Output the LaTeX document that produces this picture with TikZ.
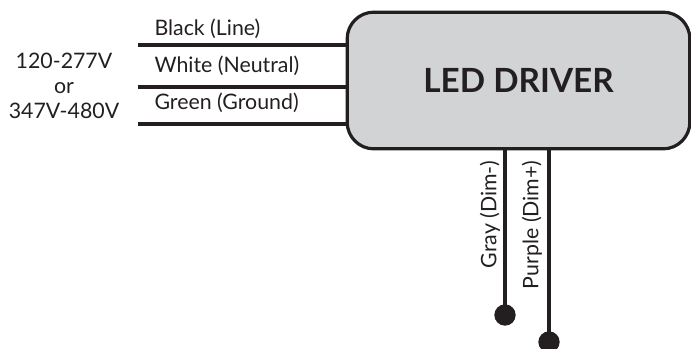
\documentclass[tikz,border=0pt]{standalone}
\usepackage{fontspec}
\setmainfont{Lato}
\usetikzlibrary{positioning}
\definecolor{drvgray}{RGB}{209,211,212}
\definecolor{ink}{RGB}{35,31,32}
\tikzset{every picture/.style={line width=0.75pt}}
\tikzset{
  wire/.style={draw=ink,line width=2.3pt},
  wirelabel/.style={anchor=west,inner sep=0.75pt,text=ink,font=\fontsize{16}{19}\selectfont},
  dimlabel/.style={anchor=east,rotate=90,inner sep=0.75pt,text=ink,font=\fontsize{16}{19}\selectfont},
  enddot/.style={circle,fill=ink,inner sep=0pt,minimum size=16pt},
}

\begin{document}
\begin{tikzpicture}[x=0.75pt,y=0.75pt,yscale=-1,xscale=1]
\useasboundingbox (0,0) rectangle (691,349);

%Shape: Rounded Rect [id:drv]
\node (drv) [draw=ink,fill=drvgray,line width=2.4pt,rounded corners=20pt,minimum width=257pt,minimum height=102.5pt,inner sep=0pt,text=ink,font=\fontsize{25}{30}\selectfont\bfseries] at (518.5,80.5) {\raisebox{-3pt}{LED DRIVER}};

%Straight Lines [id:blk]
\coordinate (blk) at (138,45);
\draw [wire] (blk) -- (drv.west |- blk) ;
%Straight Lines [id:wht]
\coordinate (wht) at (138,87);
\draw [wire] (wht) -- (drv.west |- wht) ;
%Straight Lines [id:grn]
\coordinate (grn) at (138,124);
\draw [wire] (grn) -- (drv.west |- grn) ;

%Straight Lines [id:gry]
\node (gdot) [enddot] at (505,315) {};
\draw [wire] (drv.south -| gdot) -- (gdot.center) ;
%Straight Lines [id:prp]
\node (pdot) [enddot] at (549,342) {};
\draw [wire] (drv.south -| pdot) -- (pdot.center) ;

% Text Node
\node (blktxt) [wirelabel] at (153,29) {Black (Line)};
% Text Node
\node (whttxt) [wirelabel] at (153,66) {White (Neutral)};
% Text Node
\node (grntxt) [wirelabel] at (153,103) {Green (Ground)};
% Text Node
\node (volts) [align=center,inner sep=0.75pt,text=ink,font=\fontsize{16}{18.75}\selectfont] at (64,86) {120-277V\\or\\347V-480V};
% Text Node
\node (grytxt) [dimlabel] at (490,159) {Gray (Dim-)};
% Text Node
\node (prptxt) [dimlabel] at (532,159) {Purple (Dim+)};

\end{tikzpicture}
\end{document}
